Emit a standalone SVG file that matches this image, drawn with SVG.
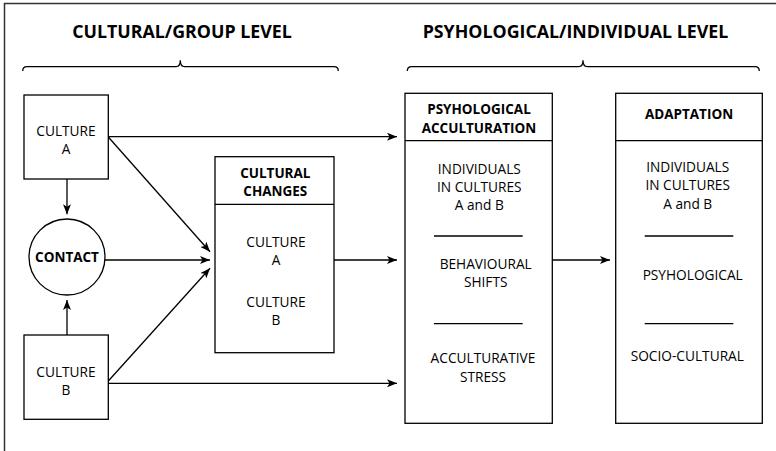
<svg xmlns="http://www.w3.org/2000/svg" width="776" height="451" viewBox="0 0 776 451">
<defs>
<marker id="arr" markerUnits="userSpaceOnUse" viewBox="0 0 10 8" refX="10" refY="4" markerWidth="10" markerHeight="8" orient="auto">
<path d="M0,0 L10,4 L0,8 L2.5,4 Z" fill="#000"/>
</marker>
<style>
.box{fill:#fff;stroke:#000;stroke-width:1.3}
.ln{fill:none;stroke:#000;stroke-width:1.3}
.c{stroke:#000;stroke-width:1.3;fill:none;marker-end:url(#arr)}
text{font-family:"Open Sans","Noto Sans","DejaVu Sans",sans-serif;fill:#000;text-anchor:middle;dominant-baseline:central}
.t{font-size:13.7px}
.h{font-size:13.5px;font-weight:bold}
.title{font-size:17.8px;font-weight:bold}
</style>
</defs>
<rect width="776" height="451" fill="#fff"/>
<path d="M4.5,451 V3.5 H776" fill="none" stroke="#333" stroke-width="1.5"/>

<g id="title-cultural">
<text class="title" x="182" y="30.5">CULTURAL/GROUP LEVEL</text>
<path class="ln" d="M22.7,71 Q22.7,66.7 27,66.7 H176 Q180.3,66.7 180.3,60.3 Q180.3,66.7 184.6,66.7 H334 Q338.3,66.7 338.3,71"/>
</g>
<g id="title-psych">
<text class="title" x="575.5" y="30.5">PSYHOLOGICAL/INDIVIDUAL LEVEL</text>
<path class="ln" d="M407.3,71 Q407.3,66.7 411.6,66.7 H578.7 Q583,66.7 583,60.3 Q583,66.7 587.3,66.7 H755 Q759.3,66.7 759.3,71"/>
</g>

<g id="connectors">
<line class="c" x1="108.3" y1="136.7" x2="397" y2="136.7"/>
<line class="c" x1="108.3" y1="137" x2="210" y2="251.7"/>
<line class="c" x1="67" y1="179" x2="67" y2="214.3"/>
<line class="c" x1="105" y1="260" x2="210" y2="260"/>
<line class="c" x1="67" y1="335" x2="67" y2="300"/>
<line class="c" x1="108.3" y1="381" x2="210" y2="268.3"/>
<line class="c" x1="108.3" y1="383.3" x2="397" y2="383.3"/>
<line class="c" x1="334" y1="260" x2="397" y2="260"/>
<line class="c" x1="552.3" y1="260" x2="610" y2="260"/>
</g>

<g id="culture-a">
<rect class="box" x="24" y="95" width="84.3" height="84"/>
<text class="t" x="66" y="130">CULTURE</text>
<text class="t" x="66" y="148.7">A</text>
</g>
<g id="contact">
<circle class="box" cx="67" cy="257" r="38"/>
<text class="h" x="67" y="256.5">CONTACT</text>
</g>
<g id="culture-b">
<rect class="box" x="24" y="335" width="84.3" height="84.3"/>
<text class="t" x="66" y="371">CULTURE</text>
<text class="t" x="66" y="389.3">B</text>
</g>
<g id="cultural-changes">
<rect class="box" x="215" y="156.7" width="119" height="196"/>
<line class="ln" x1="215" y1="204.3" x2="334" y2="204.3"/>
<text class="h" x="275.3" y="173.3">CULTURAL</text>
<text class="h" x="275.3" y="191">CHANGES</text>
<text class="t" x="276" y="241">CULTURE</text>
<text class="t" x="276" y="259.3">A</text>
<text class="t" x="276" y="301">CULTURE</text>
<text class="t" x="276" y="319.3">B</text>
</g>
<g id="psych-acculturation">
<rect class="box" x="405" y="93.3" width="147.3" height="330"/>
<line class="ln" x1="405" y1="140.7" x2="552.3" y2="140.7"/>
<text class="h" x="479" y="109.3">PSYHOLOGICAL</text>
<text class="h" x="479" y="127.7">ACCULTURATION</text>
<text class="t" x="479.3" y="168.3">INDIVIDUALS</text>
<text class="t" x="479.3" y="186">IN CULTURES</text>
<text class="t" x="479.3" y="204">A and B</text>
<line class="ln" x1="434" y1="236" x2="522.7" y2="236"/>
<text class="t" x="485.7" y="263.3">BEHAVIOURAL</text>
<text class="t" x="485.7" y="281">SHIFTS</text>
<line class="ln" x1="434" y1="323.7" x2="522.7" y2="323.7"/>
<text class="t" x="483" y="357.3">ACCULTURATIVE</text>
<text class="t" x="483" y="376">STRESS</text>
</g>
<g id="adaptation">
<rect class="box" x="615.7" y="93.3" width="146.6" height="330"/>
<line class="ln" x1="615.7" y1="140.7" x2="762.3" y2="140.7"/>
<text class="h" x="689" y="114.3">ADAPTATION</text>
<text class="t" x="687.7" y="166">INDIVIDUALS</text>
<text class="t" x="687.7" y="184">IN CULTURES</text>
<text class="t" x="687.7" y="203.3">A and B</text>
<line class="ln" x1="644.7" y1="236" x2="733.3" y2="236"/>
<text class="t" x="692.7" y="274.3">PSYHOLOGICAL</text>
<line class="ln" x1="644.7" y1="323.7" x2="733.3" y2="323.7"/>
<text class="t" x="687.3" y="355">SOCIO-CULTURAL</text>
</g>
</svg>
